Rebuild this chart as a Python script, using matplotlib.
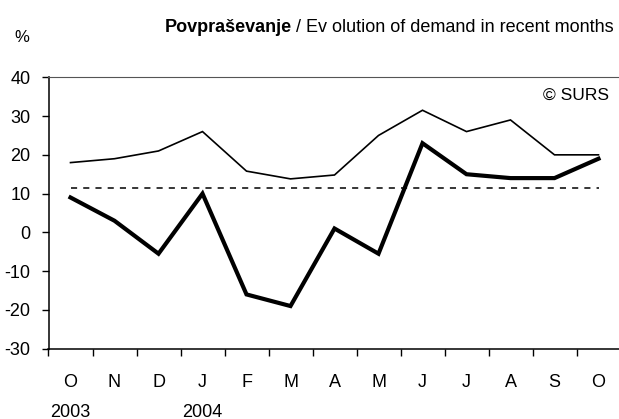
import matplotlib.pyplot as plt
from matplotlib.transforms import blended_transform_factory

plt.rcParams['font.family'] = ['Liberation Sans Narrow', 'Liberation Sans', 'DejaVu Sans']
plt.rcParams['axes.unicode_minus'] = False

months = ["O", "N", "D", "J", "F", "M", "A", "M", "J", "J", "A", "S", "O"]
years = {0: "2003", 3: "2004"}

# thin line: recent months, thick line: balance
demand_thin = [18, 19, 21, 26, 15.8, 13.8, 14.8, 25, 31.5, 26, 29, 20, 20]
demand_thick = [9, 3, -5.5, 10, -16, -19, 1, -5.5, 23, 15, 14, 14, 19]
average = 11.5

W, H = 619, 419
fig = plt.figure(figsize=(W / 100, H / 100), dpi=100)
ax = fig.add_axes([48.5 / W, (H - 348.7) / H, 572 / W, (348.7 - 77.3) / H])

x = list(range(len(months)))
ax.plot(x, demand_thin, color="black", lw=1.2, solid_joinstyle="miter")
ax.plot(x, demand_thick, color="black", lw=3.0, solid_joinstyle="miter")
ax.plot([x[0], x[-1]], [average, average], color="black", lw=1.1,
        linestyle=(0, (4, 4)))

ax.set_xlim(-0.5, len(months) - 0.5)
ax.set_ylim(-30, 40)
ax.set_yticks(range(-30, 41, 10))
ax.set_xticks([i - 0.5 for i in range(len(months))])
ax.set_xticklabels([])
ax.set_xticks(x, minor=True)
ax.set_xticklabels(months, minor=True)
ax.tick_params(axis="x", which="minor", length=0, pad=18, labelsize=13)
ax.tick_params(axis="x", which="major", direction="out", length=5, width=1)
ax.tick_params(axis="y", direction="out", length=5, width=1, pad=8, labelsize=13)

ax.spines["right"].set_visible(False)
ax.spines["top"].set_color("#555555")
for s in ["left", "bottom"]:
    ax.spines[s].set_linewidth(1.1)

trans = blended_transform_factory(ax.transData, fig.transFigure)
for i, yr in years.items():
    ax.text(i, 1 - 412 / H, yr, transform=trans, ha="center", va="center", fontsize=13)

fig.text(22 / W, 1 - 38 / H, "%", ha="center", va="center", fontsize=12)
ax.text(609 / W, 1 - 95 / H, "© SURS", transform=fig.transFigure,
        ha="right", va="center", fontsize=12.5)

# title: bold part + normal part, right aligned
t2 = fig.text(614 / W, 1 - 28 / H, " / Ev olution of demand in recent months",
              ha="right", va="center", fontsize=13)
fig.canvas.draw()
bb = t2.get_window_extent()
fig.text(bb.x0 / W, 1 - 28 / H, "Povpraševanje", ha="right", va="center",
         fontsize=13, fontweight="bold")

fig.savefig("out.png", dpi=100)
